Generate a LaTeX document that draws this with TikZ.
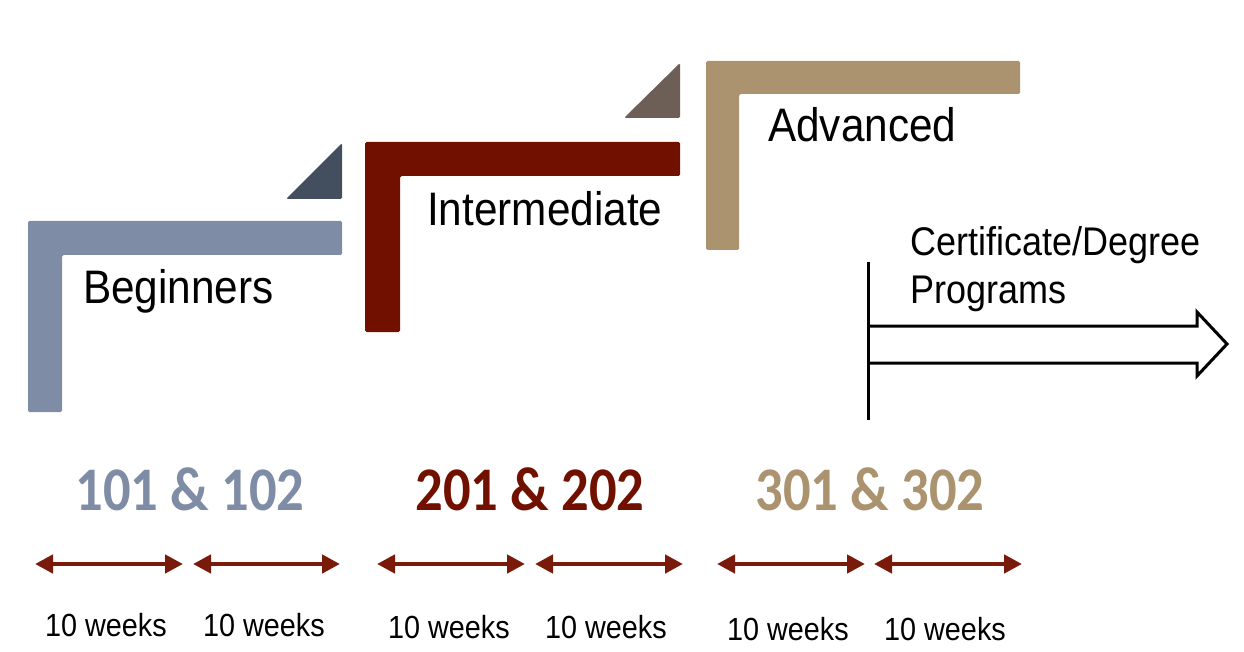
\documentclass[tikz,border=0pt]{standalone}
\usepackage{fontspec}
\setmainfont[FakeStretch=0.9]{Liberation Sans}
\newfontfamily\numfont[FakeStretch=0.88]{Carlito}
\usetikzlibrary{arrows.meta}
\definecolor{begblue}{HTML}{7F8CA6}
\definecolor{begslate}{HTML}{434F5F}
\definecolor{intred}{HTML}{721000}
\definecolor{inttaupe}{HTML}{6E5F56}
\definecolor{advtan}{HTML}{AB9370}
\definecolor{weekred}{HTML}{7A1A0A}
\tikzset{
  stair/.style={rounded corners=1.5pt},
  level/.style={anchor=base west,inner sep=0pt,font=\fontsize{47}{50}\selectfont},
  course/.style={anchor=base,inner sep=0pt,font=\numfont\bfseries\fontsize{62}{64}\selectfont},
  span/.style={{Triangle[length=18pt,width=18pt]}-{Triangle[length=18pt,width=18pt]},line width=4.5pt,weekred},
  weeks/.style={anchor=base,inner sep=0pt,font=\fontsize{32}{34}\selectfont}
}
\begin{document}
\begin{tikzpicture}[x=1pt,y=-1pt]
\useasboundingbox (0,0) rectangle (1244,652);
% steps
\fill[begblue,stair] (28,221) -- (342,221) -- (342,255) -- (62,255) -- (62,412) -- (28,412) -- cycle;
\fill[begslate,stair] (286,199) -- (342,199) -- (342,143) -- cycle;
\fill[intred,stair] (365,142) -- (680,142) -- (680,176) -- (400,176) -- (400,332) -- (365,332) -- cycle;
\fill[inttaupe,stair] (624,118) -- (680,118) -- (680,63) -- cycle;
\fill[advtan,stair] (706,61) -- (1020,61) -- (1020,94) -- (739,94) -- (739,250) -- (706,250) -- cycle;
\node[level] (beg) at (83,303) {Beginners};
\node[level] (int) at (427,226) {Intermediate};
\node[level] (adv) at (768,142) {Advanced};
% programs
\draw[line width=3pt] (868,262) -- (868,420);
\draw[line width=3pt,line join=miter] (868,326) -- (1197,326) -- (1197,312) -- (1227,344) -- (1197,376) -- (1197,363) -- (868,363);
\node[anchor=base west,inner sep=0pt,font=\fontsize{40}{48}\selectfont,align=left] (prog) at (910,303) {Certificate/Degree\\Programs};
% courses
\node[course,begblue] (c101) at (190,510) {101 \& 102};
\node[course,intred] (c201) at (530,510) {201 \& 202};
\node[course,advtan] (c301) at (870,510) {301 \& 302};
% terms
\coordinate (t1a) at (35,564);  \coordinate (t1b) at (183,564);
\coordinate (t2a) at (193,564); \coordinate (t2b) at (340,564);
\coordinate (t3a) at (377,564); \coordinate (t3b) at (525,564);
\coordinate (t4a) at (535,564); \coordinate (t4b) at (683,564);
\coordinate (t5a) at (717,564); \coordinate (t5b) at (865,564);
\coordinate (t6a) at (874,564); \coordinate (t6b) at (1022,564);
\draw[span] (t1a) -- (t1b);
\draw[span] (t2a) -- (t2b);
\draw[span] (t3a) -- (t3b);
\draw[span] (t4a) -- (t4b);
\draw[span] (t5a) -- (t5b);
\draw[span] (t6a) -- (t6b);
\node[weeks] (w1) at (106,636) {10 weeks};
\node[weeks] (w2) at (264,636) {10 weeks};
\node[weeks] (w3) at (449,638) {10 weeks};
\node[weeks] (w4) at (606,638) {10 weeks};
\node[weeks] (w5) at (788,640) {10 weeks};
\node[weeks] (w6) at (945,640) {10 weeks};
\end{tikzpicture}
\end{document}
